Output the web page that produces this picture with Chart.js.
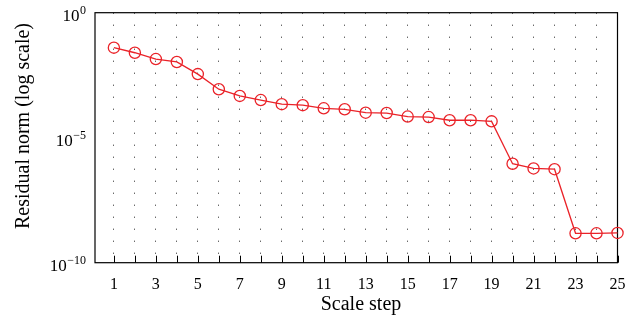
<!DOCTYPE html>
<html><head><meta charset="utf-8">
<script src="https://cdn.jsdelivr.net/npm/chart.js@4.4.1/dist/chart.umd.min.js"></script>
<style>html,body{margin:0;padding:0;background:#fff}#wrap{width:643px;height:324px;position:relative}</style>
</head><body><div id="wrap"><canvas id="c"></canvas></div>
<script>
const steps = [1,2,3,4,5,6,7,8,9,10,11,12,13,14,15,16,17,18,19,20,21,22,23,24,25];
const residual = [0.040,0.025,0.014,0.0107,0.0035,8.7e-4,4.7e-4,3.2e-4,2.2e-4,2.0e-4,1.5e-4,1.37e-4,1.0e-4,9.7e-5,7.0e-5,6.7e-5,5.0e-5,5.0e-5,4.5e-5,9.1e-7,5.9e-7,5.5e-7,1.5e-9,1.5e-9,1.55e-9];
const xTickValues = [1,2,3,4,5,6,7,8,9,10,11,12,13,14,15,16,17,18,19,20,21,22,23,24,25];
const xTickLabels = [1,3,5,7,9,11,13,15,17,19,21,23,25];
const yTickExponents = [0,-5,-10];
const xTitle = 'Scale step';
const yTitle = 'Residual norm (log scale)';

const SERIF = "'Liberation Serif', 'Times New Roman', serif";
const RED = '#ea2228';

const deco = {
  id: 'deco',
  beforeDatasetsDraw(chart) {
    const {ctx, chartArea: a, scales: {x}} = chart;
    ctx.save();
    ctx.strokeStyle = '#000';
    ctx.lineWidth = 1;
    ctx.beginPath();
    xTickValues.forEach(v => {
      const px = Math.round(x.getPixelForValue(v)) + 0.5;
      ctx.moveTo(px, a.bottom);
      ctx.lineTo(px, a.bottom - 7);
    });
    ctx.stroke();
    ctx.lineWidth = 1.2;
    ctx.strokeRect(a.left, a.top, a.right - a.left, a.bottom - a.top);
    ctx.restore();
  },
  afterDraw(chart) {
    const {ctx, chartArea: a, scales: {y}} = chart;
    ctx.save();
    ctx.fillStyle = '#000';
    ctx.textAlign = 'right';
    ctx.textBaseline = 'alphabetic';
    yTickExponents.forEach(e => {
      const py = y.getPixelForValue(Math.pow(10, e));
      const exp = (e < 0 ? '\u2212' + (-e) : String(e));
      ctx.font = '12px ' + SERIF;
      const w = ctx.measureText(exp).width;
      ctx.fillText(exp, 86, py + 1);
      ctx.font = '17px ' + SERIF;
      ctx.fillText('10', 86 - w - 0.5, py + 8);
    });
    ctx.font = '20px ' + SERIF;
    ctx.textAlign = 'center';
    ctx.fillText(xTitle, 361, 310);
    ctx.translate(29, 126);
    ctx.rotate(-Math.PI / 2);
    ctx.fillText(yTitle, 0, 0);
    ctx.restore();
  }
};

new Chart(document.getElementById('c'), {
  type: 'line',
  data: {
    datasets: [{
      data: steps.map((s, i) => ({x: s, y: residual[i]})),
      borderColor: RED,
      borderWidth: 1.3,
      pointRadius: 5.6,
      pointHoverRadius: 5.6,
      pointBorderColor: RED,
      pointBorderWidth: 1.3,
      pointBackgroundColor: 'rgba(0,0,0,0)',
      pointStyle: 'circle',
      tension: 0,
      clip: false
    }]
  },
  options: {
    responsive: true,
    maintainAspectRatio: false,
    devicePixelRatio: 1,
    animation: false,
    events: [],
    layout: {padding: {left: 95, right: 25.5, top: 12.7, bottom: 0}},
    plugins: {legend: {display: false}, tooltip: {enabled: false}},
    scales: {
      x: {
        type: 'linear',
        min: 0.1,
        max: 25,
        afterBuildTicks: s => { s.ticks = xTickValues.map(v => ({value: v})); },
        afterFit: s => { s.height = 61.3; },
        grid: {display: true, drawTicks: false, tickLength: 0, color: 'rgba(0,0,0,0.85)', lineWidth: 1},
        border: {display: false, dash: [1, 11]},
        ticks: {
          autoSkip: false,
          maxRotation: 0,
          padding: 12,
          color: '#000',
          font: {family: SERIF, size: 16},
          callback: v => xTickLabels.includes(v) ? String(v) : ''
        }
      },
      y: {
        type: 'logarithmic',
        min: 1e-10,
        max: 1,
        display: false
      }
    }
  },
  plugins: [deco]
});
</script>
</body></html>
